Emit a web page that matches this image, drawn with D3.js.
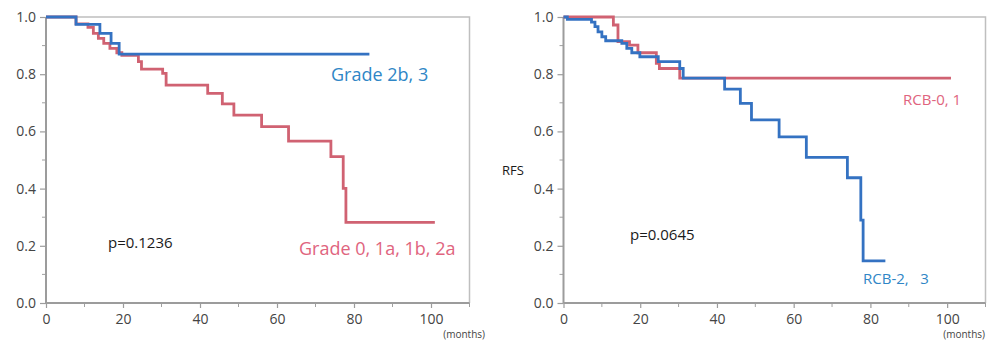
<!DOCTYPE html>
<html><head><meta charset="utf-8">
<script src="https://cdn.jsdelivr.net/npm/d3@7"></script>
<style>
body{margin:0;background:#fff;}
svg{display:block;font-family:"Open Sans",sans-serif;}
</style>
</head><body>
<svg id="c" width="987" height="342"></svg>
<script>
// ---- tick values ----
const yTicks = [0, 0.2, 0.4, 0.6, 0.8, 1.0];
const yMinor = [0.1, 0.3, 0.5, 0.7, 0.9];
const xTicks = [0, 20, 40, 60, 80, 100];
const xMinor = [10, 30, 50, 70, 90, 110];

// ---- left panel: pathological grade ----
const gradeLowTime = [0, 7.8, 10.9, 12.3, 13.6, 15.0, 16.6, 18.4, 19.7, 24.0, 24.8, 30.3, 31.2, 42.0, 45.8, 48.8, 56.0, 63.0, 74.0, 77.2, 77.9, 101];
const gradeLowSurv = [1.0, 0.976, 0.964, 0.943, 0.925, 0.908, 0.890, 0.875, 0.866, 0.844, 0.818, 0.803, 0.762, 0.733, 0.696, 0.657, 0.617, 0.566, 0.512, 0.401, 0.282, 0.282];
const gradeHighTime = [0, 7.8, 14.0, 16.9, 19.0, 84];
const gradeHighSurv = [1.0, 0.974, 0.943, 0.908, 0.870, 0.870];

// ---- right panel: RCB ----
const rcbLowTime = [0, 13.0, 14.2, 17.2, 19.4, 24.2, 25.0, 30.3, 101];
const rcbLowSurv = [1.0, 0.972, 0.914, 0.902, 0.875, 0.838, 0.820, 0.786, 0.786];
const rcbHighTime = [0, 1.0, 7.3, 8.2, 9.0, 10.0, 11.0, 15.2, 16.5, 17.8, 19.9, 24.7, 30.3, 31.2, 42.0, 46.1, 49.0, 56.2, 63.3, 74.0, 77.5, 78.1, 83.9];
const rcbHighSurv = [1.0, 0.992, 0.982, 0.966, 0.948, 0.931, 0.917, 0.908, 0.890, 0.875, 0.861, 0.844, 0.820, 0.786, 0.748, 0.698, 0.640, 0.581, 0.509, 0.438, 0.290, 0.147, 0.147];

const RED = "#d06272", BLUE = "#3472c2";
const RED_TXT = "#e0647e", BLUE_TXT = "#2f86c6";

const svg = d3.select("#c");
const Y0 = 303, Y1 = 17;

function zip(t, s){ return t.map((d,i)=>({t:d, s:s[i]})); }

function panel(x0, x1, series, labels, pText, pPos, rfs, monthsEnd){
  const x = d3.scaleLinear().domain([0,110]).range([x0,x1]);
  const y = d3.scaleLinear().domain([0,1]).range([Y0,Y1]);
  const g = svg.append("g");
  // frame top/right
  g.append("path").attr("d", `M${x(0)},${y(1)}H${x(110)}V${y(0)}`)
    .attr("fill","none").attr("stroke","#bfbfbf").attr("stroke-width",1.5);
  // minor ticks
  g.selectAll(".ym").data(yMinor).join("line")
    .attr("x1",x(0)-4).attr("x2",x(0)).attr("y1",d=>y(d)).attr("y2",d=>y(d))
    .attr("stroke","#a0a0a0").attr("stroke-width",1);
  g.selectAll(".xm").data(xMinor).join("line")
    .attr("x1",d=>x(d)).attr("x2",d=>x(d)).attr("y1",y(0)).attr("y2",y(0)+4)
    .attr("stroke","#a0a0a0").attr("stroke-width",1);
  // axes
  const ya = g.append("g").attr("transform",`translate(${x(0)},0)`)
    .call(d3.axisLeft(y).tickValues(yTicks).tickFormat(d3.format(".1f")).tickSize(6).tickPadding(4));
  const xa = g.append("g").attr("transform",`translate(0,${y(0)})`)
    .call(d3.axisBottom(x).tickValues(xTicks).tickSize(5).tickPadding(6));
  [ya,xa].forEach(a=>{
    a.select(".domain").attr("stroke","#9c9c9c").attr("stroke-width",2);
    a.selectAll(".tick line").attr("stroke","#9c9c9c").attr("stroke-width",1.2);
    a.selectAll("text").attr("fill","#444").style("font-size","14px").style("font-family",'"Open Sans",sans-serif');
  });
  ya.select(".domain").attr("d",`M0,${Y0}V${Y1}`);
  xa.select(".domain").attr("d",`M${x0},0H${x1}`);
  // months
  g.append("text").attr("x", monthsEnd).attr("y", 338).text("(months)")
    .attr("text-anchor","end").attr("fill","#444").style("font-size","10px");
  // curves
  const line = d3.line().x(d=>x(d.t)).y(d=>y(d.s)).curve(d3.curveStepAfter);
  series.forEach(s=>{
    g.append("path").datum(zip(s.t,s.s)).attr("d",line)
      .attr("fill","none").attr("stroke",s.c).attr("stroke-width",2.8)
      .attr("stroke-linejoin","miter").attr("stroke-linecap","butt");
  });
  labels.forEach(l=>{
    g.append("text").attr("x",l.x).attr("y",l.y).text(l.text)
      .attr("fill",l.c).style("font-size",l.fs+"px").style("white-space","pre");
  });
  g.append("text").attr("x",pPos[0]).attr("y",pPos[1]).text(pText)
    .attr("fill","#1a1a1a").style("font-size","15px");
  if(rfs){
    g.append("text").attr("x",rfs[0]).attr("y",rfs[1]).text("RFS")
      .attr("fill","#1a1a1a").style("font-size","13px");
  }
}

panel(46, 469.5,
  [{t:gradeLowTime, s:gradeLowSurv, c:RED},{t:gradeHighTime, s:gradeHighSurv, c:BLUE}],
  [{x:331, y:81, text:"Grade 2b, 3", c:BLUE_TXT, fs:18},
   {x:299, y:255, text:"Grade 0, 1a, 1b, 2a", c:RED_TXT, fs:18}],
  "p=0.1236", [108, 248], null, 485);

panel(563.5, 985.5,
  [{t:rcbLowTime, s:rcbLowSurv, c:RED},{t:rcbHighTime, s:rcbHighSurv, c:BLUE}],
  [{x:903, y:105, text:"RCB-0, 1", c:RED_TXT, fs:15},
   {x:863, y:284, text:"RCB-2,   3", c:BLUE_TXT, fs:15}],
  "p=0.0645", [630, 240], [502, 175], 985);
</script>
</body></html>
